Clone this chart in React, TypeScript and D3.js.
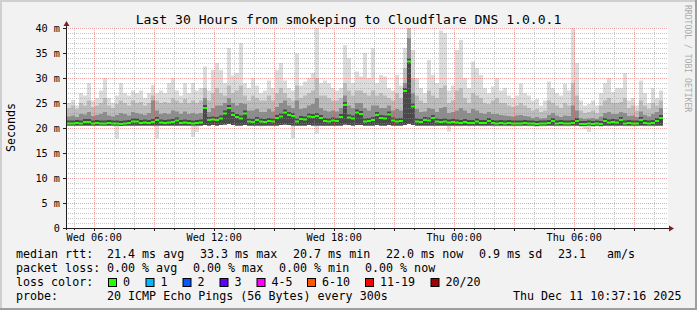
import React from "react";
import * as d3 from "d3";

const W = 697;
const H = 310;
const FONT = "'DejaVu Sans Mono', monospace";

// time base of the samples (UTC), 12 minute columns
const startTime = Date.UTC(2025, 11, 10, 4, 40);
const spanHours = 30;
const stepMinutes = 12;

// median rtt in ms per column
const med = [
  20.9, 20.9, 21.0, 20.9, 21.2, 21.2, 20.9, 21.0, 20.9, 20.9,
  21.0, 20.9, 20.9, 20.8, 20.9, 21.0, 21.3, 21.3, 21.0, 21.1,
  21.0, 21.2, 21.6, 21.1, 21.0, 21.1, 21.2, 21.5, 21.0, 21.1,
  21.0, 20.9, 21.0, 21.1, 24.0, 21.6, 21.7, 21.6, 21.9, 22.9,
  24.0, 22.6, 22.2, 21.9, 22.9, 21.3, 21.2, 21.6, 21.3, 21.2,
  21.4, 21.3, 22.0, 22.3, 23.1, 22.6, 22.4, 21.3, 21.8, 21.7,
  22.3, 22.2, 22.4, 22.0, 21.4, 21.3, 21.5, 21.4, 22.2, 24.6,
  22.1, 21.9, 23.1, 22.8, 21.3, 21.4, 21.6, 22.6, 22.0, 21.9,
  22.7, 21.5, 21.3, 21.4, 27.4, 33.3, 24.3, 21.3, 21.2, 21.6,
  21.5, 22.0, 21.3, 21.2, 21.3, 21.1, 21.2, 21.1, 21.0, 21.2,
  21.0, 21.0, 21.3, 21.0, 21.0, 21.4, 21.0, 20.9, 21.0, 20.9,
  21.0, 20.9, 20.9, 20.9, 21.0, 20.9, 20.9, 20.8, 20.9, 20.9,
  21.0, 21.4, 20.9, 21.0, 20.9, 20.9, 21.0, 21.4, 20.8, 20.8,
  20.9, 20.8, 20.9, 20.8, 21.4, 21.1, 21.2, 21.1, 21.6, 20.9,
  21.0, 20.9, 20.9, 21.6, 21.0, 20.9, 21.0, 21.4, 22.0,
];

// upper quartile-ish ping (ms)
const p75 = [
  22.3, 22.5, 22.2, 22.8, 22.7, 23.2, 22.4, 22.6, 22.8, 23.2,
  22.5, 22.3, 22.6, 23.0, 22.8, 22.5, 23.2, 23.0, 22.8, 22.6,
  23.0, 25.5, 23.5, 22.8, 23.0, 22.8, 23.5, 23.3, 22.8, 23.3,
  22.8, 23.0, 22.8, 23.0, 26.0, 23.2, 24.0, 24.5, 24.5, 25.0,
  26.0, 25.0, 24.5, 25.0, 24.8, 23.5, 23.5, 23.8, 23.2, 23.2,
  23.8, 23.3, 24.2, 25.0, 25.5, 24.5, 24.0, 25.5, 23.8, 24.0,
  24.5, 24.8, 26.0, 24.0, 23.5, 23.3, 23.5, 23.3, 24.0, 26.5,
  24.5, 24.0, 25.0, 25.0, 24.0, 23.5, 24.5, 24.5, 24.0, 24.0,
  24.5, 23.5, 23.8, 23.5, 29.0, 38.0, 27.0, 23.8, 23.2, 23.3,
  24.0, 23.8, 23.2, 24.0, 24.2, 23.0, 23.2, 23.5, 24.0, 23.5,
  23.0, 23.8, 23.5, 23.0, 22.8, 23.2, 22.8, 22.8, 22.6, 22.5,
  22.4, 22.3, 22.5, 22.6, 22.4, 22.3, 22.0, 22.2, 21.9, 22.0,
  22.6, 23.0, 22.5, 22.2, 22.5, 22.4, 24.5, 23.5, 22.0, 21.8,
  21.9, 22.0, 21.8, 22.3, 23.0, 23.2, 22.8, 22.8, 23.2, 23.0,
  22.4, 22.5, 22.2, 23.3, 22.6, 22.3, 22.8, 23.2, 24.0,
];

// 90th percentile ping (ms)
const p90 = [
  24.0, 24.5, 23.8, 25.0, 24.5, 25.5, 24.2, 24.5, 25.0, 26.0,
  24.5, 24.0, 24.8, 25.5, 25.0, 24.5, 25.5, 25.0, 25.2, 24.5,
  25.0, 26.5, 25.5, 25.0, 25.2, 25.0, 26.0, 25.5, 25.0, 25.8,
  25.0, 25.5, 25.0, 25.5, 28.0, 25.5, 27.0, 28.0, 27.0, 26.5,
  28.5, 27.0, 27.5, 28.5, 26.5, 25.5, 26.5, 26.0, 25.5, 25.5,
  26.5, 25.5, 27.0, 28.0, 27.0, 26.0, 25.5, 28.5, 26.0, 26.5,
  27.0, 27.5, 30.0, 26.5, 26.5, 26.0, 25.5, 25.5, 26.0, 29.0,
  27.5, 26.5, 27.5, 27.5, 27.0, 26.5, 27.5, 26.5, 27.0, 26.5,
  26.0, 25.5, 27.0, 26.0, 32.0, 40.0, 30.0, 26.5, 25.5, 25.0,
  27.5, 26.5, 26.0, 28.0, 28.5, 25.0, 25.5, 27.5, 28.0, 26.0,
  25.0, 27.0, 26.5, 26.0, 25.0, 24.8, 25.5, 26.0, 25.0, 25.0,
  24.5, 24.2, 24.5, 25.0, 24.5, 24.0, 23.5, 23.8, 23.2, 23.5,
  25.5, 25.0, 24.5, 24.0, 25.0, 24.5, 29.0, 26.5, 23.5, 23.0,
  23.2, 23.5, 23.0, 24.5, 25.5, 26.0, 25.0, 25.0, 25.2, 26.0,
  24.0, 24.5, 23.5, 25.5, 24.5, 23.8, 25.0, 24.5, 25.5,
];

// highest ping (ms)
const hi = [
  25.0, 25.6, 24.5, 27.0, 26.5, 29.0, 25.5, 26.0, 27.5, 30.0,
  26.0, 25.0, 26.5, 29.0, 27.0, 26.5, 27.5, 27.0, 27.5, 26.0,
  27.0, 28.6, 27.0, 27.5, 27.0, 29.0, 30.0, 27.5, 26.5, 29.0,
  27.0, 29.0, 27.5, 28.0, 32.3, 27.5, 31.6, 33.0, 31.6, 29.0,
  36.0, 30.5, 31.0, 37.0, 29.0, 28.0, 30.0, 28.5, 27.0, 27.5,
  29.5, 28.0, 31.6, 33.0, 29.5, 28.0, 27.5, 34.9, 28.5, 29.3,
  30.0, 31.0, 40.5, 29.0, 29.5, 29.0, 28.0, 27.5, 28.0, 36.6,
  34.0, 29.0, 31.3, 30.3, 35.0, 30.0, 36.0, 29.0, 30.6, 30.3,
  28.0, 27.5, 30.6, 28.5, 36.0, 40.5, 35.6, 30.0, 28.0, 27.0,
  33.6, 30.6, 29.0, 39.5, 39.0, 27.5, 28.5, 35.6, 37.6, 30.0,
  28.0, 33.3, 32.0, 30.6, 28.0, 27.0, 28.3, 30.0, 27.5, 28.0,
  26.5, 26.0, 26.5, 28.9, 27.0, 26.5, 25.5, 25.8, 24.5, 25.5,
  29.3, 28.0, 27.0, 26.5, 28.9, 27.5, 40.5, 33.0, 25.5, 24.5,
  24.8, 25.5, 24.5, 27.0, 29.0, 30.0, 27.2, 28.0, 28.0, 31.0,
  25.5, 26.0, 24.5, 29.5, 27.0, 25.0, 28.0, 26.0, 27.5,
];

// lowest ping (ms)
const lo = [
  20.5, 20.4, 20.5, 20.4, 20.5, 20.4, 20.5, 20.4, 20.4, 20.5,
  20.4, 20.4, 17.9, 20.4, 20.5, 20.4, 20.5, 20.4, 20.4, 20.5,
  20.4, 20.5, 17.9, 20.4, 20.5, 20.4, 20.5, 20.4, 20.4, 20.5,
  20.4, 18.2, 19.2, 20.4, 20.6, 20.5, 20.6, 20.5, 20.6, 20.7,
  20.8, 20.6, 20.5, 20.5, 20.6, 20.4, 20.4, 20.5, 20.3, 20.4,
  20.5, 20.4, 20.5, 20.6, 20.7, 20.6, 17.9, 20.4, 20.5, 20.5,
  20.6, 20.5, 18.9, 20.5, 20.4, 20.4, 20.5, 20.4, 20.5, 20.7,
  20.6, 20.5, 20.6, 20.6, 20.4, 20.4, 20.5, 20.6, 20.5, 20.5,
  20.6, 20.4, 20.4, 20.4, 20.6, 20.8, 20.6, 20.4, 20.4, 20.5,
  20.4, 20.5, 20.4, 20.4, 20.4, 19.3, 20.4, 20.3, 20.3, 20.4,
  20.3, 20.4, 20.4, 20.3, 20.3, 20.4, 20.3, 20.3, 20.3, 20.3,
  20.3, 20.3, 20.3, 20.3, 20.4, 20.3, 20.3, 20.2, 20.3, 20.3,
  20.4, 20.4, 20.3, 20.3, 20.3, 20.3, 20.4, 20.4, 20.2, 19.8,
  19.2, 20.2, 20.3, 20.2, 20.4, 20.3, 20.4, 20.3, 20.4, 20.3,
  20.3, 20.3, 20.3, 20.4, 20.3, 20.3, 20.3, 20.4, 20.5,
];

const yTickValues = [0, 5, 10, 15, 20, 25, 30, 35, 40];
const yTickLabels = ["0", "5 m", "10 m", "15 m", "20 m", "25 m", "30 m", "35 m", "40 m"];
const xLabelTimes = [
  Date.UTC(2025, 11, 10, 6),
  Date.UTC(2025, 11, 10, 12),
  Date.UTC(2025, 11, 10, 18),
  Date.UTC(2025, 11, 11, 0),
  Date.UTC(2025, 11, 11, 6),
];
const xTickLabels = ["Wed 06:00", "Wed 12:00", "Wed 18:00", "Thu 00:00", "Thu 06:00"];

const title = "Last 30 Hours from smokeping to Cloudflare DNS 1.0.0.1";
const yAxisTitle = "Seconds";
const watermark = "RRDTOOL / TOBI OETIKER";

const legendRtt: [number, string][] = [
  [16, "median rtt:"], [107, "21.4 ms avg"], [200, "33.3 ms max"], [293, "20.7 ms min"],
  [386, "22.0 ms now"], [479, "0.9 ms sd"], [558, "23.1"], [607, "am/s"],
];
const legendLoss: [number, string][] = [
  [16, "packet loss:"], [107, "0.00 % avg"], [193, "0.00 % max"], [279, "0.00 % min"], [365, "0.00 % now"],
];
const lossColorLabel = "loss color:";
const lossNames = ["0", "1", "2", "3", "4-5", "6-10", "11-19", "20/20"];
const lossColors = ["#26ff00", "#00b8ff", "#0059ff", "#5e00ff", "#ff00ff", "#ff5500", "#ff0000", "#a10000"];
const lossBoxX = [108, 145.5, 182.5, 219.5, 256.5, 307, 365, 430.5];
const legendProbe: [number, string][] = [
  [16, "probe:"], [107, "20 ICMP Echo Pings (56 Bytes) every 300s"], [513, "Thu Dec 11 10:37:16 2025"],
];

const PL = 67, PR = 668, PT = 28, PB = 228;

// dotted line as 1px dots (1 on, 1 off)
function dotsH(y: number, x0: number, x1: number) {
  let d = "";
  for (let xx = x0; xx < x1; xx += 2) d += `M${xx},${y}h1v1h-1z`;
  return d;
}
function dotsV(x: number, y0: number, y1: number) {
  let d = "";
  for (let yy = y0; yy < y1; yy += 2) d += `M${x},${yy}h1v1h-1z`;
  return d;
}

export default function App() {
  const x = d3.scaleUtc()
    .domain([new Date(startTime), new Date(startTime + spanHours * 3600e3)])
    .range([PL, PL + 600]);
  const y = d3.scaleLinear().domain([0, 40]).range([PB, PT]);

  type Col = { i: number; med: number; p75: number; p90: number; hi: number; lo: number };
  const cols: Col[] = med.map((m, i) => ({ i, med: m, p75: p75[i], p90: p90[i], hi: hi[i], lo: lo[i] }));
  const pts = [...cols, { ...cols[cols.length - 1], i: cols.length }];
  const tx = (i: number) => x(new Date(startTime + i * stepMinutes * 60e3));

  const band = (lower: (d: Col) => number, upper: (d: Col) => number) =>
    d3.area<Col>()
      .x((d) => tx(d.i))
      .y0((d) => y(lower(d)))
      .y1((d) => y(upper(d)))
      .curve(d3.curveStepAfter)(pts) || "";

  // floor of the inner (darker) smoke bands: just under the median, never below the lowest ping
  const innerFloor = (d: Col) => Math.min(d.med - 0.4, Math.max(d.lo, 20.5));

  // median drawn as flat segments per sample
  const medPath = cols
    .map((d) => `M${tx(d.i)},${y(d.med)}H${tx(d.i + 1)}`)
    .join("");

  const hours = x.ticks(d3.utcHour.every(1)!);
  const minorV = hours.filter((h) => h.getUTCHours() % 3 !== 0).map((h) => Math.round(x(h)));
  const majorV = hours.filter((h) => h.getUTCHours() % 3 === 0).map((h) => Math.round(x(h)));
  const msSteps = d3.range(0, 41, 1);
  const minorH = msSteps.filter((v) => v % 5 !== 0).map((v) => Math.round(y(v)));
  const majorH = yTickValues.filter((v) => v > 0).map((v) => Math.round(y(v)));

  const minorD = minorH.map((yy) => dotsH(yy, PL + 1, PR)).join("") +
    minorV.map((xx) => dotsV(xx, PT, PB)).join("");
  const majorD = majorH.map((yy) => dotsH(yy, PL + 1, PR)).join("") +
    majorV.map((xx) => dotsV(xx, PT, PB)).join("");

  const axisY = PB + 0.5;
  const axisX = PL - 0.5;

  return (
    <svg width={W} height={H} style={{ display: "block", position: "absolute", left: 0, top: 0 }}
      fontFamily={FONT}>
      <defs>
        <clipPath id="plot">
          <rect x={PL} y={PT} width={PR - PL} height={PB - PT} />
        </clipPath>
      </defs>
      <rect x={0} y={0} width={W} height={H} fill="#f2f2f2" />
      <rect x={0} y={0} width={W} height={2} fill="#cfcfcf" />
      <rect x={0} y={0} width={2} height={H} fill="#cfcfcf" />
      <rect x={0} y={H - 2} width={W} height={2} fill="#9e9e9e" />
      <rect x={W - 2} y={0} width={2} height={H} fill="#9e9e9e" />

      <rect x={PL} y={PT} width={PR - PL} height={PB - PT} fill="#ffffff" />

      <g clipPath="url(#plot)">
        <path d={band((d) => d.lo, (d) => d.hi)} fill="#dcdcdc" />
        <path d={band(innerFloor, (d) => d.p90)} fill="#bcbcbc" />
        <path d={band(innerFloor, (d) => d.p75)} fill="#8c8c8c" />
        <path d={band(innerFloor, (d) => d.med + 0.6)} fill="#4a4a4a" />
      </g>

      <g shapeRendering="crispEdges">
        <path d={minorD} fill="rgba(143,143,143,0.5)" />
        <path d={majorD} fill="rgba(222,79,79,0.5)" />
      </g>

      <g clipPath="url(#plot)">
        <path d={medPath} fill="none" stroke="#26ff00" strokeWidth={2} />
      </g>

      {/* axes */}
      <g shapeRendering="crispEdges">
        <line x1={axisX} x2={axisX} y1={PB + 2} y2={PT - 4} stroke="#1f1f1f" />
        <line x1={PL - 4} x2={PR + 3} y1={axisY} y2={axisY} stroke="#1f1f1f" />
        {yTickValues.map((v) => (
          <line key={"yt" + v} x1={PL - 4} x2={PL} y1={Math.round(y(v)) + 0.5} y2={Math.round(y(v)) + 0.5} stroke="#1f1f1f" />
        ))}
        {majorV.map((xx, k) => (
          <line key={"xt" + k} x1={xx + 0.5} x2={xx + 0.5} y1={PB} y2={PB + 3} stroke="#1f1f1f" />
        ))}
        {minorV.map((xx, k) => (
          <line key={"xm" + k} x1={xx + 0.5} x2={xx + 0.5} y1={PB} y2={PB + 2} stroke="#1f1f1f" />
        ))}
      </g>
      <polygon points={`${axisX - 3},${PT - 2} ${axisX},${PT - 7} ${axisX + 3},${PT - 2}`} fill="#801f1f" />
      <polygon points={`${PR + 1},${axisY - 3} ${PR + 6},${axisY} ${PR + 1},${axisY + 3}`} fill="#801f1f" />

      {/* y tick labels */}
      {yTickValues.map((v, k) => (
        <text key={"yl" + v} x={60} y={y(v) + 0.5} textAnchor="end" dominantBaseline="central"
          fontSize={10.2} fill="#000">{yTickLabels[k]}</text>
      ))}
      {/* x tick labels */}
      {xLabelTimes.map((t, k) => (
        <text key={"xl" + k} x={x(new Date(t)) + 0.5} y={241} textAnchor="middle" fontSize={10.2} fill="#000">
          {xTickLabels[k]}
        </text>
      ))}

      <text x={348.5} y={24} textAnchor="middle" fontSize={13.1} fill="#000">{title}</text>
      <text transform="translate(15,127.5) rotate(-90)" textAnchor="middle" fontSize={11.67} fill="#000">
        {yAxisTitle}
      </text>
      <text transform="translate(684.5,5) rotate(90)" textAnchor="start" fontSize={8.1} fill="#ababab">
        {watermark}
      </text>

      {/* legend */}
      <g fontSize={11.67} fill="#000">
        {legendRtt.map(([xx, s], k) => (
          <text key={"r" + k} x={xx} y={258.3} xmlSpace="preserve">{s}</text>
        ))}
        {legendLoss.map(([xx, s], k) => (
          <text key={"l" + k} x={xx} y={272} xmlSpace="preserve">{s}</text>
        ))}
        <text x={16} y={285.8}>{lossColorLabel}</text>
        {lossNames.map((n, k) => (
          <g key={"lc" + k}>
            <rect x={lossBoxX[k] + 0.5} y={278.5} width={8} height={8} fill={lossColors[k]} stroke="#000" strokeWidth={1} />
            <text x={lossBoxX[k] + 15} y={285.8}>{n}</text>
          </g>
        ))}
        {legendProbe.map(([xx, s], k) => (
          <text key={"p" + k} x={xx} y={299.5} xmlSpace="preserve">{s}</text>
        ))}
      </g>
    </svg>
  );
}
